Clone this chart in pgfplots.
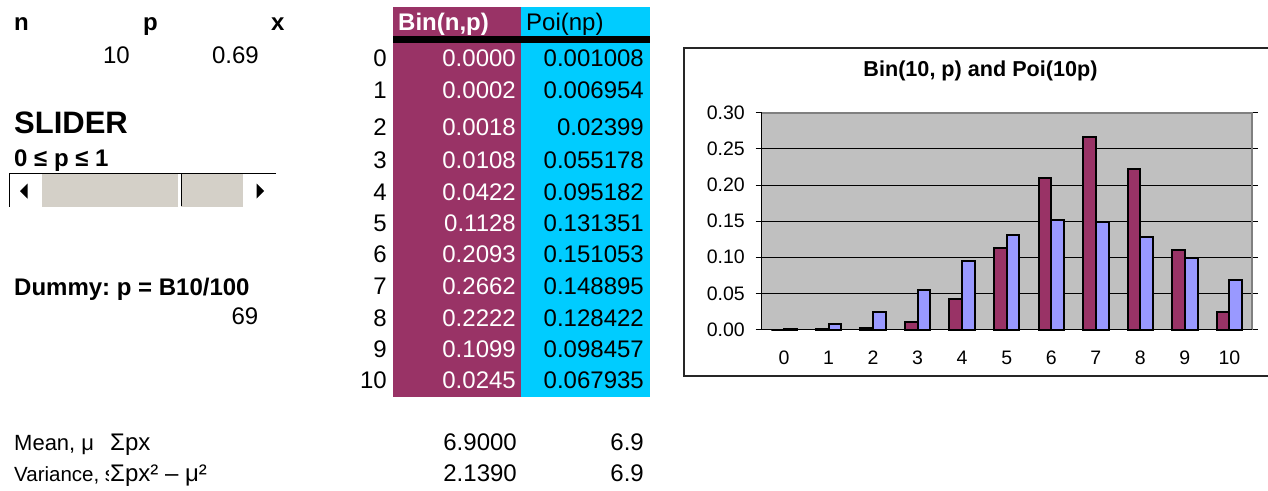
\documentclass[border=0pt]{standalone}
\usepackage{fontspec}
\setmainfont{Liberation Sans}
\usepackage{pgfplots}
\pgfplotsset{compat=1.18}

\definecolor{binc}{HTML}{993366}
\definecolor{poic}{HTML}{00CCFF}
\definecolor{poibar}{HTML}{9999FF}
\definecolor{plotbg}{HTML}{C0C0C0}
\definecolor{sliderc}{HTML}{D4D0C8}
\definecolor{edgec}{HTML}{808080}

\newcommand\fs[1]{\fontsize{#1}{#1}\selectfont}
\frenchspacing

\begin{document}
\begin{tikzpicture}
\begin{scope}[x=1pt,y=-1pt]
\useasboundingbox (0,0) rectangle (1268,490);

% ---- parameters ----
\node[anchor=base west, inner sep=0pt, font=\fs{24}\bfseries] at (14,30.7) {n};
\node[anchor=base west, inner sep=0pt, font=\fs{24}\bfseries] at (143,30.7) {p};
\node[anchor=base west, inner sep=0pt, font=\fs{24}\bfseries] at (271,30.7) {x};
\node[anchor=base east, inner sep=0pt, font=\fs{24}] at (130,63.3) {10};
\node[anchor=base east, inner sep=0pt, font=\fs{24}] at (259,63.3) {0.69};

% ---- slider ----
\node[anchor=base west, inner sep=0pt, font=\fs{31}\bfseries] at (14,133.3) {SLIDER};
\node[anchor=base west, inner sep=0pt, font=\fs{24}\bfseries] at (14,166.7) {0 ≤ p ≤ 1};
\fill[sliderc] (41.7,174) rectangle (177.7,207);
\fill[sliderc] (181,174) rectangle (242.7,207);
\draw[black, line width=1pt] (181.5,174) -- (181.5,206);
\draw[black, line width=1pt] (276,173.3) -- (9,173.3) -- (9,207);
\fill[black] (20,191) -- (27.5,183.5) -- (27.5,198.5) -- cycle;
\fill[black] (264,191) -- (256.5,183.5) -- (256.5,198.5) -- cycle;

% ---- dummy cell ----
\node[anchor=base west, inner sep=0pt, font=\fs{24}\bfseries] at (14,295) {Dummy: p = B10/100};
\node[anchor=base east, inner sep=0pt, font=\fs{24}] at (258.5,324) {69};

% ---- probability table ----
\fill[binc] (392.7,6.7) rectangle (521,397);
\fill[poic] (521,6.7) rectangle (650,397);
\fill[black] (392.7,36) rectangle (650,43.3);
\node[anchor=base west, inner sep=0pt, font=\fs{24}\bfseries, text=white] at (398,30.7) {Bin(n,p)};
\node[anchor=base west, inner sep=0pt, font=\fs{24}] at (526,30.7) {Poi(np)};
\foreach \k/\yb/\b/\q in {
  0/66.7/0.0000/0.001008, 1/98.3/0.0002/0.006954, 2/135/0.0018/0.02399,
  3/168.3/0.0108/0.055178, 4/200/0.0422/0.095182, 5/231.7/0.1128/0.131351,
  6/262.7/0.2093/0.151053, 7/294.3/0.2662/0.148895, 8/326/0.2222/0.128422,
  9/357.3/0.1099/0.098457, 10/388.3/0.0245/0.067935} {
  \node[anchor=base east, inner sep=0pt, font=\fs{24}] at (387,\yb) {\k};
  \node[anchor=base east, inner sep=0pt, font=\fs{24}, text=white] at (516,\yb) {\b};
  \node[anchor=base east, inner sep=0pt, font=\fs{24}] at (644,\yb) {\q};
}

% ---- moments ----
\node[anchor=base west, inner sep=0pt, font=\fs{22}] at (14,450) {Mean, μ};
\node[anchor=base west, inner sep=0pt, font=\fs{24}] at (110,450) {Σpx};
\node[anchor=base east, inner sep=0pt, font=\fs{24}] at (517,450) {6.9000};
\node[anchor=base east, inner sep=0pt, font=\fs{24}] at (644,450) {6.9};
\begin{scope}
  \clip (0,455) rectangle (108.5,490);
  \node[anchor=base west, inner sep=0pt, font=\fs{20.5}] at (14,481) {Variance, s};
\end{scope}
\node[anchor=base west, inner sep=0pt, font=\fs{24}] at (110,481) {Σpx² – μ²};
\node[anchor=base east, inner sep=0pt, font=\fs{24}] at (517,481) {2.1390};
\node[anchor=base east, inner sep=0pt, font=\fs{24}] at (644,481) {6.9};

% ---- chart frame ----
\draw[black!85, line width=1.3pt] (1270,48) -- (684,48) -- (684,376) -- (1270,376);
\end{scope}

\begin{axis}[
  at={(761.7pt,-329.5pt)}, anchor=south west,
  scale only axis, width=490pt, height=216.8pt,
  xmin=-0.5, xmax=10.5, ymin=0, ymax=0.30,
  clip=false,
  axis background/.style={fill=plotbg},
  axis line style={draw=none},
  title={Bin(10, p) and Poi(10p)},
  title style={font=\fs{21.6}\bfseries, at={(0.4465,1)}, anchor=base, yshift=30.7pt, inner sep=0pt},
  ybar=0pt, bar width=12.7pt,
  xtick={0,...,10},
  minor xtick={-0.5,0.5,...,10.5},
  xtick style={draw=none},
  minor tick length=6pt,
  major tick length=6pt,
  tick align=outside,
  tick style={black, line width=0.8pt},
  ytick={0,0.05,...,0.31},
  ymajorgrids,
  grid style={black, line width=0.8pt},
  /pgf/number format/assume math mode=true,
  yticklabel style={/pgf/number format/fixed, /pgf/number format/fixed zerofill,
    /pgf/number format/precision=2, font=\fs{19.5}, inner sep=0pt, xshift=-10.7pt},
  scaled y ticks=false,
  xticklabel style={font=\fs{19.5}, anchor=base, inner sep=0pt, yshift=-28.5pt},
]
\addplot[fill=binc, draw=black, line width=2pt] coordinates {
  (0,0.0000) (1,0.0002) (2,0.0018) (3,0.0108) (4,0.0422) (5,0.1128)
  (6,0.2093) (7,0.2662) (8,0.2222) (9,0.1099) (10,0.0245)};
\addplot[fill=poibar, draw=black, line width=2pt] coordinates {
  (0,0.001008) (1,0.006954) (2,0.02399) (3,0.055178) (4,0.095182) (5,0.131351)
  (6,0.151053) (7,0.148895) (8,0.128422) (9,0.098457) (10,0.067935)};
\draw[edgec, line width=2pt] (rel axis cs:0,1) -- (rel axis cs:1,1) -- (rel axis cs:1,0);
\draw[black, line width=1pt] (rel axis cs:0,1) -- (rel axis cs:0,0) -- (rel axis cs:1,0);
\end{axis}
\end{tikzpicture}
\end{document}
